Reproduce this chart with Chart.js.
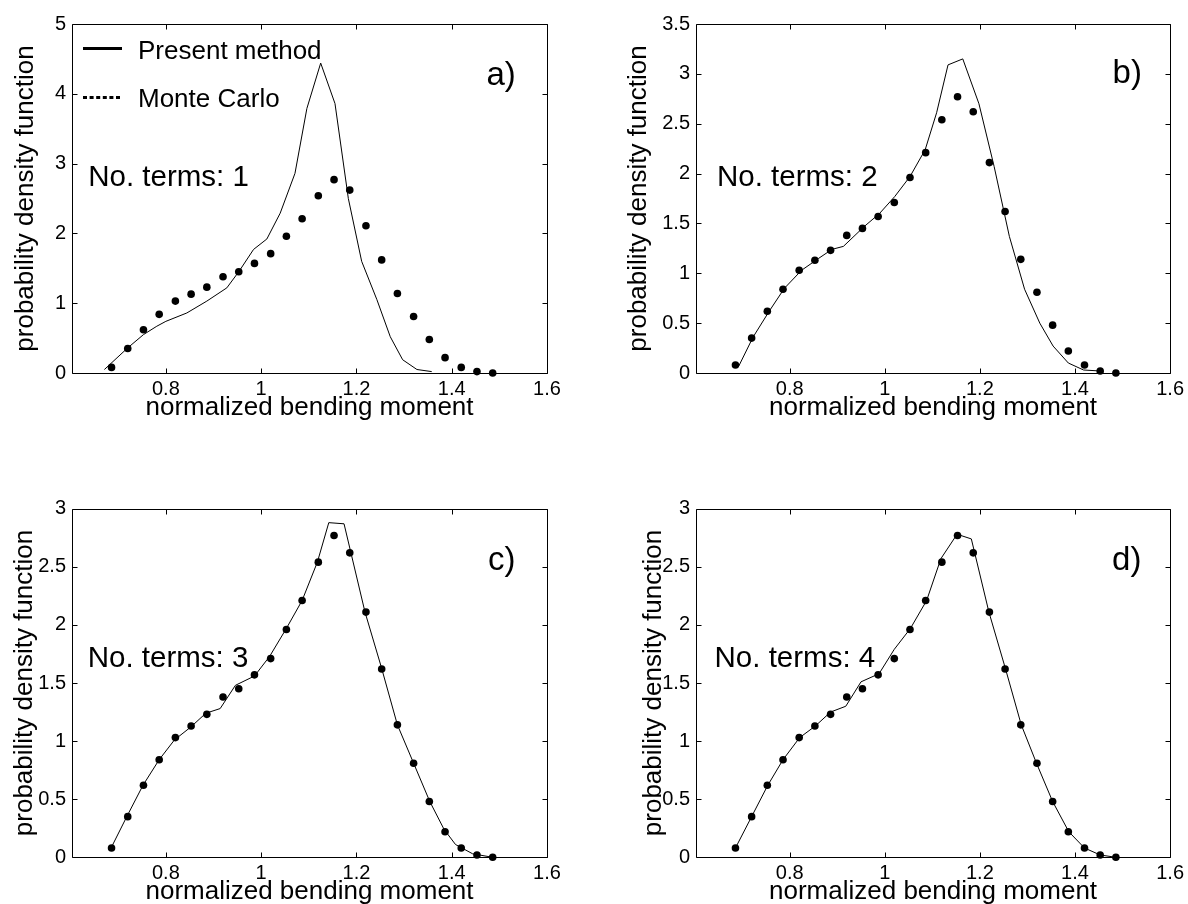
<!DOCTYPE html>
<html><head><meta charset="utf-8">
<script src="https://cdn.jsdelivr.net/npm/chart.js@4/dist/chart.umd.min.js"></script>
<style>
html,body{margin:0;padding:0;background:#fff;width:1188px;height:904px;overflow:hidden;position:relative;}
.p{position:absolute;}
canvas{display:block;}
</style></head><body>
<div class="p" style="left:0;top:0;"><canvas id="ca" width="594" height="452"></canvas></div>
<div class="p" style="left:594px;top:0;"><canvas id="cb" width="594" height="452"></canvas></div>
<div class="p" style="left:0;top:452px;"><canvas id="cc" width="594" height="480"></canvas></div>
<div class="p" style="left:594px;top:452px;"><canvas id="cd" width="594" height="480"></canvas></div>
<script>
// ---- data ----
const xTickValues = [0.8, 1, 1.2, 1.4, 1.6];
const xLabel = 'normalized bending moment';
const yLabel = 'probability density function';
const legendLabels = ['Present method', 'Monte Carlo'];
const panelLetters = ['a)', 'b)', 'c)', 'd)'];
const termLabels = ['No. terms: 1', 'No. terms: 2', 'No. terms: 3', 'No. terms: 4'];

// Monte Carlo (same in every panel)
const mcX = [0.686,0.720,0.753,0.786,0.820,0.853,0.886,0.920,0.953,0.986,1.020,1.053,1.086,1.120,1.153,1.186,1.220,1.253,1.286,1.320,1.353,1.386,1.420,1.453,1.486];
const mcY = [0.08,0.35,0.62,0.84,1.03,1.13,1.23,1.38,1.45,1.57,1.71,1.96,2.21,2.54,2.77,2.62,2.11,1.62,1.14,0.81,0.48,0.22,0.08,0.02,0.00];

// Present method, 1 term
const lineAX = [0.671,0.720,0.753,0.781,0.800,0.844,0.886,0.928,0.954,0.984,1.012,1.040,1.071,1.096,1.125,1.155,1.183,1.211,1.243,1.271,1.297,1.327,1.358];
const lineAY = [0.05,0.36,0.55,0.67,0.74,0.86,1.03,1.22,1.46,1.77,1.92,2.29,2.86,3.79,4.44,3.86,2.50,1.60,1.05,0.52,0.19,0.05,0.02];
// 2 terms
const lineBX = [0.693,0.723,0.757,0.789,0.825,0.861,0.889,0.913,0.957,0.989,1.021,1.053,1.085,1.109,1.133,1.164,1.198,1.230,1.262,1.294,1.326,1.354,1.386,1.418,1.454];
const lineBY = [0.07,0.36,0.62,0.85,1.03,1.15,1.24,1.27,1.47,1.60,1.77,1.97,2.24,2.61,3.09,3.15,2.70,2.07,1.37,0.84,0.50,0.27,0.10,0.03,0.02];
// 3 terms
const lineCX = [0.685,0.718,0.752,0.786,0.818,0.852,0.884,0.914,0.946,0.986,1.018,1.053,1.086,1.118,1.142,1.174,1.218,1.252,1.286,1.320,1.354,1.384,1.408,1.444,1.486];
const lineCY = [0.08,0.35,0.62,0.84,1.01,1.12,1.24,1.28,1.48,1.56,1.73,1.97,2.21,2.54,2.88,2.87,2.11,1.64,1.14,0.81,0.48,0.24,0.11,0.03,0.00];
// 4 terms
const lineDX = [0.686,0.720,0.754,0.786,0.821,0.854,0.886,0.918,0.950,0.988,1.020,1.054,1.088,1.118,1.152,1.182,1.219,1.254,1.287,1.319,1.353,1.387,1.420,1.453,1.486];
const lineDY = [0.08,0.35,0.62,0.84,1.03,1.13,1.25,1.30,1.51,1.58,1.79,1.97,2.21,2.57,2.78,2.74,2.11,1.62,1.14,0.81,0.48,0.22,0.08,0.02,0.00];

const yMaxes = [5, 3.5, 3, 3];
const ySteps = [1, 0.5, 0.5, 0.5];

// ---- layout (not data) ----
const FONT = '"Liberation Sans", Arial, Helvetica, sans-serif';
const panelLayout = [
  {id:'ca', pad:{left:0,top:24,right:47,bottom:19}, yW:72,  yTitlePad:10, letterAt:[1.473,4.126], termsAt:[0.637,2.683], legend:true},
  {id:'cb', pad:{left:0,top:24,right:16,bottom:19}, yW:102, yTitlePad:29, letterAt:[1.479,2.905], termsAt:[0.647,1.875], legend:false},
  {id:'cc', pad:{left:0,top:56.7,right:47,bottom:14.7}, yW:72, yTitlePad:9, letterAt:[1.476,2.472], termsAt:[0.636,1.635], legend:false},
  {id:'cd', pad:{left:0,top:56.7,right:16,bottom:14.7}, yW:102, yTitlePad:44, letterAt:[1.478,2.472], termsAt:[0.642,1.635], legend:false}
];
const lineXs = [lineAX, lineBX, lineCX, lineDX];
const lineYs = [lineAY, lineBY, lineCY, lineDY];

Chart.defaults.color = '#000';
Chart.defaults.font.family = FONT;

const fmt = v => String(+(+v).toFixed(2));

const boxPlugin = {
  id: 'box',
  afterDraw(chart, args, opts) {
    const {ctx, chartArea: {left, right, top, bottom}, scales: {x, y}} = chart;
    ctx.save();
    ctx.strokeStyle = '#000';
    ctx.lineWidth = 1;
    const L = Math.round(left) + 0.5, R = Math.round(right) + 0.5, T = Math.round(top) + 0.5, B = Math.round(bottom) + 0.5;
    ctx.beginPath();
    ctx.rect(L, T, R - L, B - T);
    const tl = 5;
    x.ticks.forEach(t => {
      const px = Math.round(x.getPixelForValue(t.value)) + 0.5;
      ctx.moveTo(px, B); ctx.lineTo(px, B - tl);
      ctx.moveTo(px, T); ctx.lineTo(px, T + tl);
    });
    y.ticks.forEach(t => {
      const py = Math.round(y.getPixelForValue(t.value)) + 0.5;
      ctx.moveTo(L, py); ctx.lineTo(L + tl, py);
      ctx.moveTo(R, py); ctx.lineTo(R - tl, py);
    });
    ctx.stroke();

    // annotations
    ctx.fillStyle = '#000';
    ctx.textAlign = 'left';
    ctx.textBaseline = 'alphabetic';
    ctx.font = '29.5px ' + FONT;
    ctx.fillText(opts.terms, x.getPixelForValue(opts.termsAt[0]), y.getPixelForValue(opts.termsAt[1]));
    ctx.font = '33px ' + FONT;
    ctx.fillText(opts.letter, x.getPixelForValue(opts.letterAt[0]), y.getPixelForValue(opts.letterAt[1]));

    if (opts.legend) {
      ctx.font = '26px ' + FONT;
      ctx.fillText(legendLabels[0], 138, 59);
      ctx.fillText(legendLabels[1], 138, 107);
      ctx.lineWidth = 2.8;
      ctx.beginPath(); ctx.moveTo(83, 48.5); ctx.lineTo(122, 48.5); ctx.stroke();
      ctx.setLineDash([4, 2.6]);
      ctx.beginPath(); ctx.moveTo(83, 97.5); ctx.lineTo(122, 97.5); ctx.stroke();
      ctx.setLineDash([]);
    }
    ctx.restore();
  }
};

panelLayout.forEach((p, i) => {
  const linePts = lineXs[i].map((xv, k) => ({x: xv, y: lineYs[i][k]}));
  const mcPts = mcX.map((xv, k) => ({x: xv, y: mcY[k]}));
  new Chart(document.getElementById(p.id), {
    type: 'scatter',
    data: {
      datasets: [
        {label: legendLabels[1], data: mcPts, showLine: false, pointRadius: 3.8, pointHoverRadius: 3.8,
         backgroundColor: '#000', borderColor: '#000', borderWidth: 0, clip: false},
        {label: legendLabels[0], data: linePts, showLine: true, pointRadius: 0, borderColor: '#000',
         borderWidth: 1, tension: 0, fill: false, clip: false}
      ]
    },
    options: {
      responsive: false,
      animation: false,
      events: [],
      layout: {padding: p.pad, autoPadding: false},
      plugins: {
        legend: {display: false},
        tooltip: {enabled: false},
        box: {terms: termLabels[i], letter: panelLetters[i], termsAt: p.termsAt, letterAt: p.letterAt, legend: p.legend}
      },
      scales: {
        x: {
          type: 'linear', position: 'bottom', min: 0.603, max: 1.6,
          grid: {display: false, drawTicks: false},
          border: {display: false},
          afterBuildTicks: s => { s.ticks = xTickValues.map(v => ({value: v})); },
          afterFit: s => { s.height = 60; },
          ticks: {padding: 4, font: {size: 20}, color: '#000', maxRotation: 0, autoSkip: false, callback: fmt},
          title: {display: true, text: xLabel, font: {size: 26}, color: '#000', padding: {top: 0, bottom: 10}}
        },
        y: {
          type: 'linear', position: 'left', min: 0, max: yMaxes[i],
          grid: {display: false, drawTicks: false},
          border: {display: false},
          afterFit: s => { s.width = p.yW; },
          ticks: {stepSize: ySteps[i], padding: 6, font: {size: 20}, color: '#000', callback: fmt},
          title: {display: true, text: yLabel, font: {size: 26}, color: '#000', padding: {top: p.yTitlePad, bottom: 0}}
        }
      }
    },
    plugins: [boxPlugin]
  });
});
</script>
</body></html>
